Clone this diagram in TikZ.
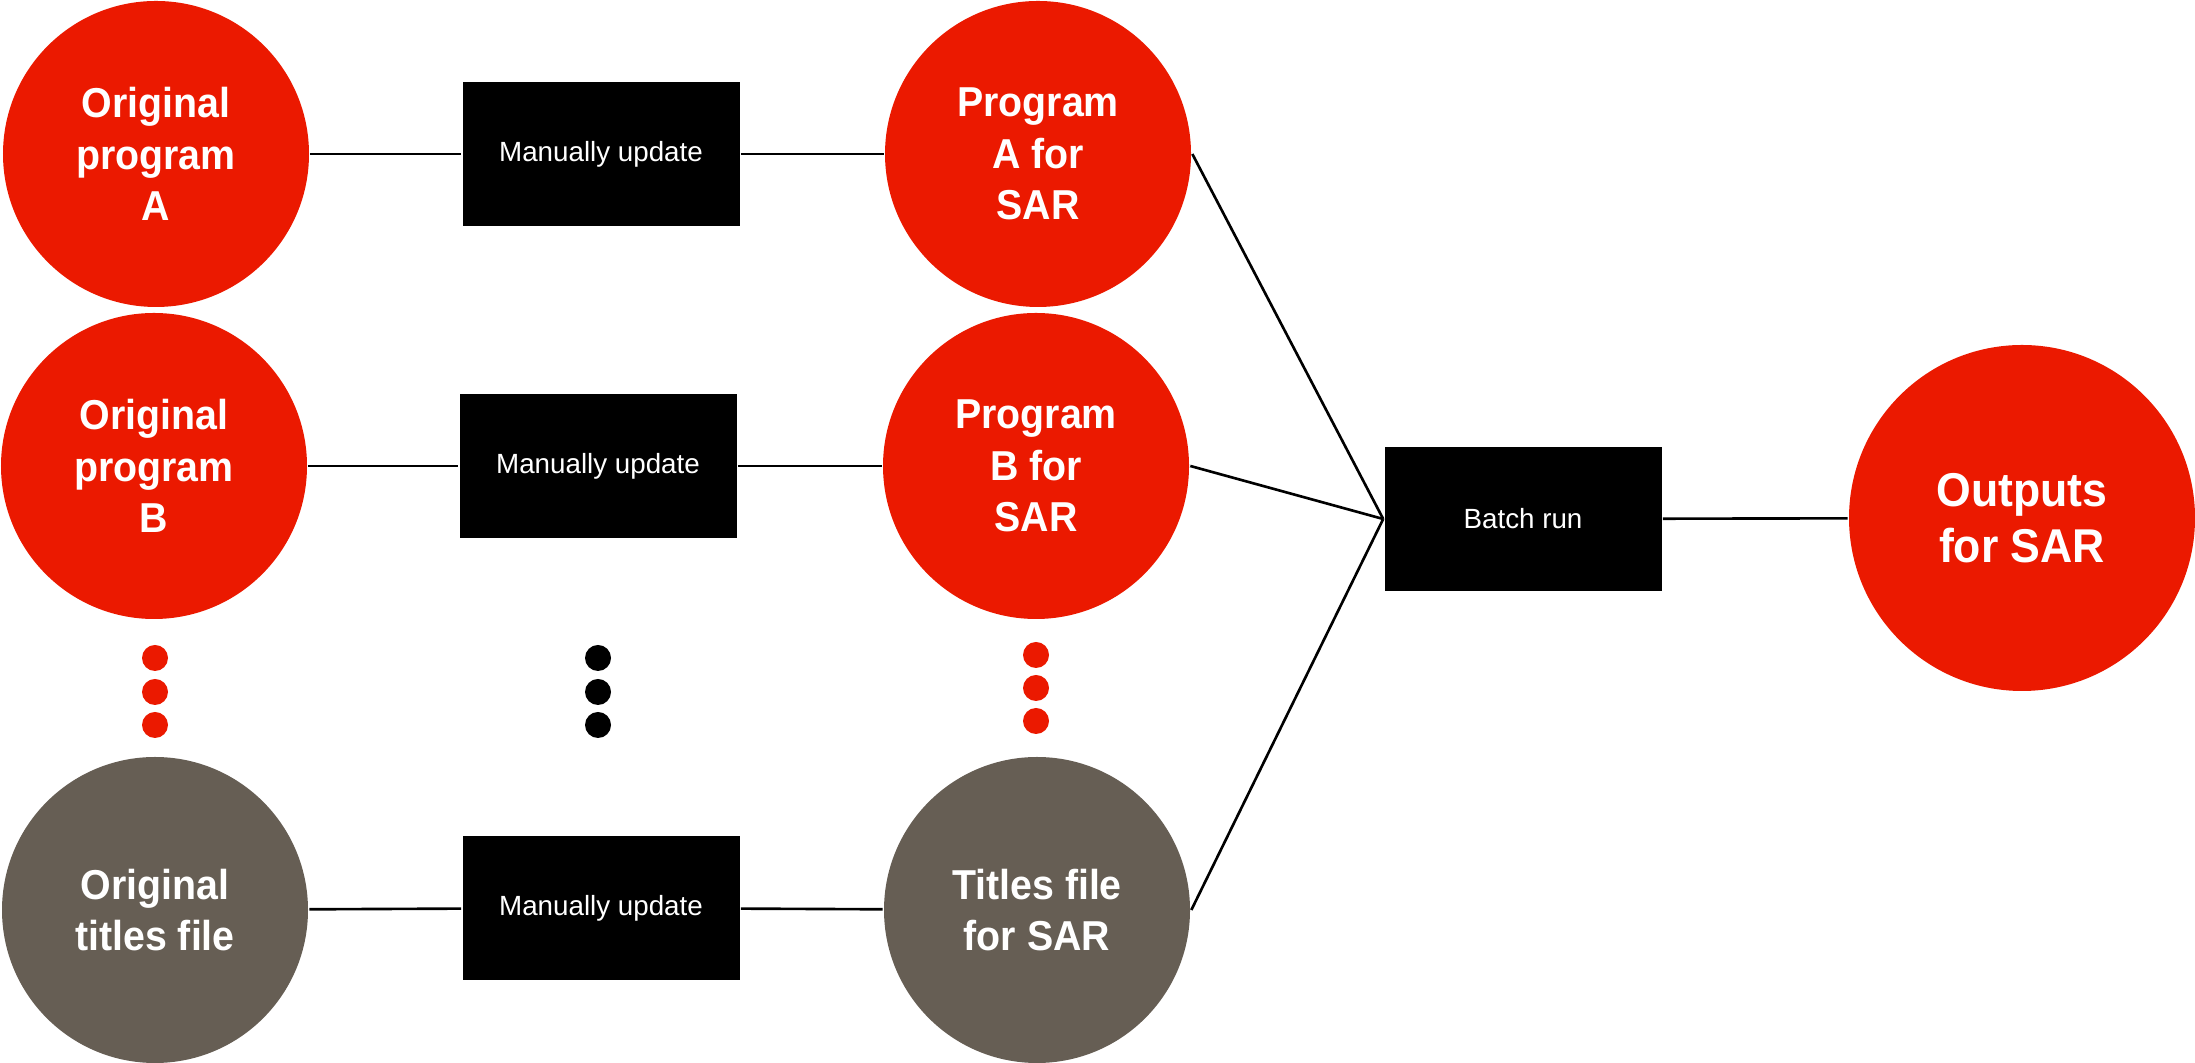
\documentclass[tikz,border=0pt]{standalone}
\usepackage{fontspec}
\setmainfont{Liberation Sans}[BoldFeatures={FakeStretch=0.94}]
\usetikzlibrary{arrows,shapes,positioning}

\definecolor{sarred}{RGB}{235,25,0}
\definecolor{sargrey}{RGB}{102,94,84}

\tikzset{
	bigcirc/.style={circle, fill=sarred, text=white, minimum size=3.06cm, inner sep=0pt, align=center, font=\bfseries\fontsize{11.9}{14.7}\selectfont},
	greycirc/.style={bigcirc, fill=sargrey},
	taskbox/.style={rectangle, fill=black, text=white, minimum width=2.77cm, minimum height=1.44cm, inner sep=0pt, font=\fontsize{7.9}{10}\selectfont},
	dotr/.style={circle, fill=sarred, minimum size=0.26cm, inner sep=0pt},
	dotk/.style={dotr, fill=black}
}

\begin{document}
\begin{tikzpicture}[scale=1.0, line width=0.75pt]
				\useasboundingbox (0,0) rectangle (21.95,10.63);

				\node[bigcirc] (A) at (1.56,9.09) {Original\\program\\A};
				\node[bigcirc] (B) at (1.54,5.97) {Original\\program\\B};
				\node[greycirc] (C) at (1.55,1.53) {Original\\titles file};

				\node[taskbox] (D) at (6.01,9.09) {Manually update};
				\node[taskbox] (E) at (5.98,5.97) {Manually update};
				\node[taskbox] (F) at (6.01,1.55) {Manually update};

				\node[bigcirc] (G) at (10.38,9.09) {Program\\A for\\SAR};
				\node[bigcirc] (H) at (10.36,5.97) {Program\\B for\\SAR};
				\node[greycirc] (I) at (10.37,1.53) {Titles file\\for SAR};

				\node[taskbox] (J) at (15.23,5.44) {Batch run};
				\node[bigcirc, minimum size=3.46cm, font=\bfseries\fontsize{13.5}{15.9}\selectfont] (K) at (20.22,5.45) {Outputs\\for SAR};

				\node[dotr] (L1) at (1.55,4.05) {};
				\node[dotr] (L2) at (1.55,3.71) {};
				\node[dotr] (L3) at (1.55,3.38) {};
				\node[dotk] (M1) at (5.98,4.05) {};
				\node[dotk] (M2) at (5.98,3.71) {};
				\node[dotk] (M3) at (5.98,3.38) {};
				\node[dotr] (N1) at (10.36,4.08) {};
				\node[dotr] (N2) at (10.36,3.75) {};
				\node[dotr] (N3) at (10.36,3.42) {};

				\path (A) edge (D);
				\path (D) edge (G);
				\path (B) edge (E);
				\path (E) edge (H);
				\path (C) edge (F);
				\path (F) edge (I);
				\path (G.east) edge (J.west);
				\path (H.east) edge (J.west);
				\path (I.east) edge (J.west);
				\path (J) edge (K);
			\end{tikzpicture}
\end{document}
